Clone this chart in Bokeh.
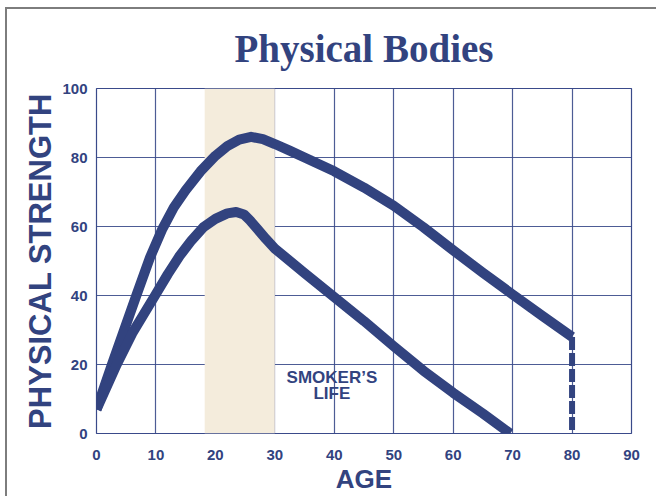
from bokeh.plotting import figure
from bokeh.models import FixedTicker, BoxAnnotation
from bokeh.core.properties import value
from bokeh.embed import file_html
from bokeh.resources import INLINE

# ---- data ----
upper_age = [0, 2.6, 6.7, 9, 11, 13, 15, 17.5, 20, 22, 24, 26, 28, 30, 32.5, 35, 40, 45, 50, 55, 60, 65, 70, 75, 80]
upper_strength = [7, 20, 40, 51, 59, 65.5, 70.5, 76, 80.5, 83.3, 85.2, 86, 85.3, 83.9, 82, 80, 76, 71.3, 66, 59.8, 53.1, 46.6, 40.3, 34.1, 28]

lower_age = [0, 3.4, 6, 9.85, 12, 14, 16, 18, 20, 22, 23.5, 24.8, 25.8, 27, 28.5, 30, 35, 40, 45, 50, 55, 60, 65, 69.6]
lower_strength = [7, 20, 29, 40, 46.2, 51.5, 56, 59.8, 62.2, 63.8, 64.2, 63.5, 61.8, 59.4, 56.4, 53.6, 46.5, 39.5, 32.6, 25.3, 18.2, 11.8, 5.8, 0]

smoker_band = [18.2, 30]
x_ticks = [0, 10, 20, 30, 40, 50, 60, 70, 80, 90]
y_ticks = [0, 20, 40, 60, 80, 100]
label_age = [39.6, 39.6]
label_strength = [16.3, 11.6]
label_text = ["SMOKER\u2019S", "LIFE"]

NAVY = "#32437F"
GRID = "#3A4A8A"

p = figure(width=651, height=489, x_range=(0, 90), y_range=(0, 100),
           output_backend="svg", toolbar_location=None,
           min_border_left=89, min_border_right=27, min_border_top=79, min_border_bottom=65,
           margin=(7, 0, 0, 5))
p.styles = {"border-left": "2px solid #7d7d7d", "border-top": "2px solid #7d7d7d"}

p.background_fill_color = "white"
p.border_fill_color = "white"
p.outline_line_color = GRID
p.outline_line_width = 1.2

# beige band
p.add_layout(BoxAnnotation(left=smoker_band[0], right=smoker_band[1],
                           fill_color="#F4ECDC", fill_alpha=1, line_color=None, level="underlay"))

# grid
p.xgrid.ticker = FixedTicker(ticks=x_ticks)
p.ygrid.ticker = FixedTicker(ticks=y_ticks)
for g in (p.xgrid, p.ygrid):
    g.grid_line_color = GRID
    g.grid_line_width = 1.2
    g.grid_line_alpha = 0.9
    g.level = "image"

# axes
p.xaxis.ticker = FixedTicker(ticks=x_ticks)
p.yaxis.ticker = FixedTicker(ticks=y_ticks)
for ax in (p.xaxis, p.yaxis):
    ax.axis_line_color = None
    ax.major_tick_line_color = None
    ax.minor_tick_line_color = None
    ax.major_tick_in = 0
    ax.major_tick_out = 0
    ax.major_label_text_font = "Liberation Sans"
    ax.major_label_text_font_style = "bold"
    ax.major_label_text_font_size = "15px"
    ax.major_label_text_color = NAVY
    ax.axis_label_text_font = "Liberation Sans"
    ax.axis_label_text_font_style = "bold"
    ax.axis_label_text_color = NAVY

p.xaxis.axis_label = "AGE"
p.xaxis.axis_label_text_font_size = "26px"
p.xaxis.major_label_standoff = 16
p.xaxis.axis_label_standoff = 1

p.yaxis.axis_label = "PHYSICAL STRENGTH"
p.yaxis.axis_label_text_font_size = "31px"
p.yaxis.major_label_standoff = 9
p.yaxis.axis_label_standoff = 1

# title
p.title.text = "Physical Bodies"
p.title.align = "center"
p.title.vertical_align = "top"
p.title.text_font = "Liberation Serif"
p.title.text_font_style = "bold"
p.title.text_font_size = "39px"
p.title.text_color = NAVY
p.title.standoff = 34

# curves
p.line(upper_age, upper_strength, line_color=NAVY, line_width=10, line_join="round", line_cap="butt")
p.line(lower_age, lower_strength, line_color=NAVY, line_width=10, line_join="round", line_cap="butt")
p.line([upper_age[-1], upper_age[-1]], [upper_strength[-1], 0], line_color=NAVY,
       line_width=6, line_dash="13 3")

# label
p.text(x=label_age, y=label_strength, text=label_text, text_font=value("Liberation Sans"),
       text_font_style="bold", text_font_size="17px", text_color=NAVY,
       text_align="center", text_baseline="middle")

open("out.html", "w").write(file_html(p, INLINE))
